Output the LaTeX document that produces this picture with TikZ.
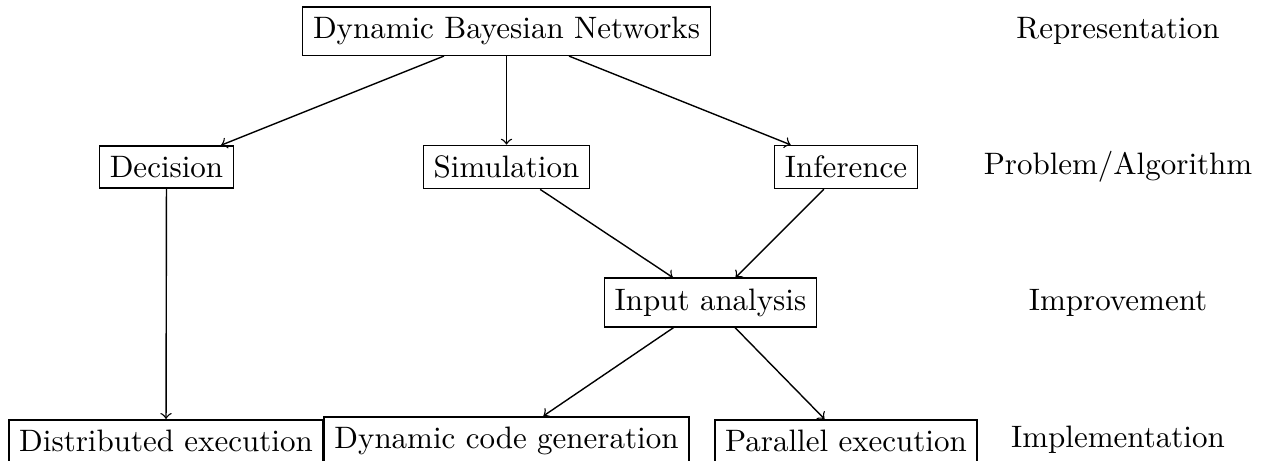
\documentclass[tikz,border=0pt]{standalone}
\usetikzlibrary{positioning}
\begin{document}
\begin{tikzpicture}[x=0.32258pt,y=-0.32258pt,
  box/.style={draw,rectangle,anchor=center,line width=0.5pt},
  level/.style={anchor=center},
  link/.style={->,line width=0.45pt}]
\useasboundingbox (0,0) rectangle (1266,460);

% boxes, one row per level
\node[box] (dbn)  at (506.5,31)    {Dynamic Bayesian Networks};
\node[box] (dec)  at (166.5,167)   {Decision};
\node[box] (sim)  at (506.5,167)   {Simulation};
\node[box] (inf)  at (846,167)     {Inference};
\node[box] (inp)  at (710.5,302.5) {Input analysis};
\node[box] (dist) at (166,441)     {Distributed execution};
\node[box] (dyn)  at (506.5,441)   {Dynamic code generation};
\node[box] (par)  at (846,441)     {Parallel execution};

% level names on the right
\node[level] (l1) at (1118,31)    {Representation};
\node[level] (l2) at (1118,167)   {Problem/Algorithm};
\node[level] (l3) at (1118,302.5) {Improvement};
\node[level] (l4) at (1118,440)   {Implementation};

% connectors
\draw[link] (dbn) -- (dec);
\draw[link] (dbn) -- (sim);
\draw[link] (dbn) -- (inf);
\draw[link] (sim) -- (inp);
\draw[link] (inf) -- (inp);
\draw[link] (dec) -- (dist);
\draw[link] (inp) -- (dyn);
\draw[link] (inp) -- (par);
\end{tikzpicture}
\end{document}
